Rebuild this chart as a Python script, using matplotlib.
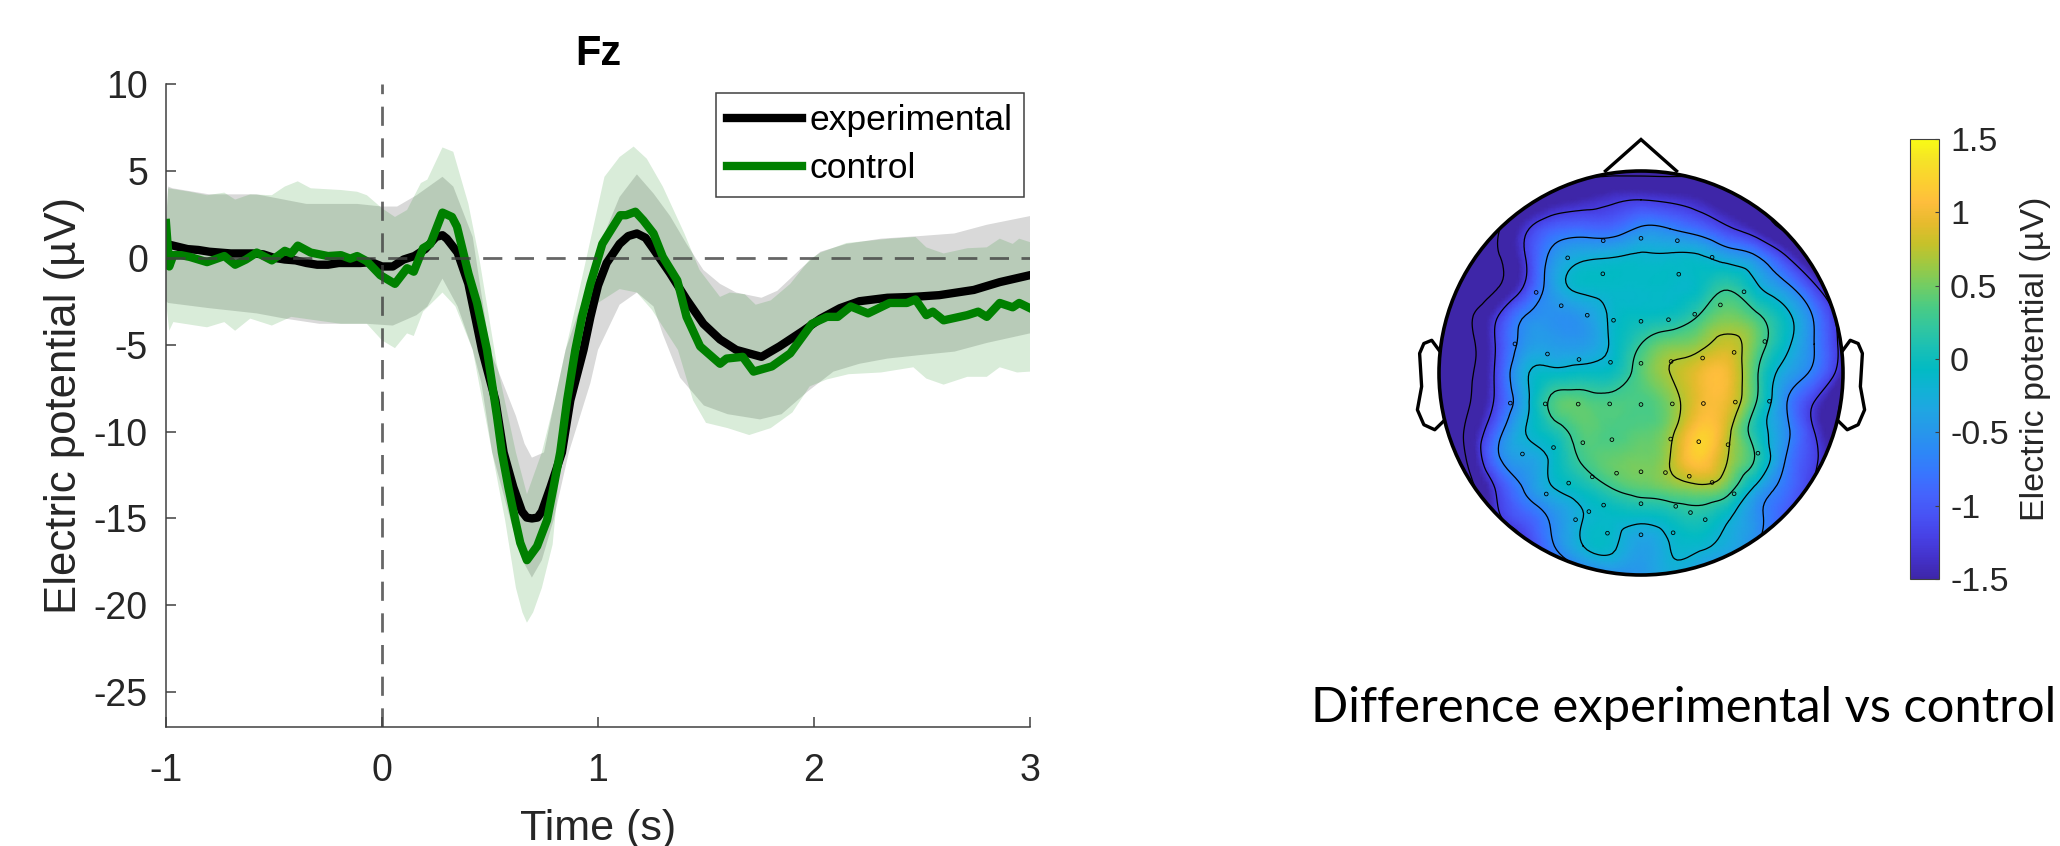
import numpy as np
import matplotlib
matplotlib.use('Agg')
import matplotlib.pyplot as plt
import matplotlib.tri as mtri
from matplotlib.colors import LinearSegmentedColormap
from matplotlib.patches import Circle

plt.rcParams['font.family'] = ['Liberation Sans', 'DejaVu Sans']

# mean curves
exp_t = [-1, -0.95, -0.9, -0.85, -0.8, -0.7, -0.6, -0.55, -0.5, -0.45, -0.4, -0.35, -0.3, -0.25, -0.2, -0.1, -0.05,
         0, 0.05, 0.1, 0.15, 0.2, 0.25, 0.28, 0.3, 0.35, 0.4, 0.463, 0.525, 0.563, 0.608, 0.648, 0.67, 0.694, 0.72, 0.74, 0.78,
         0.833, 0.872, 0.933, 0.965, 1.0, 1.04, 1.1, 1.14, 1.18, 1.22, 1.257, 1.334, 1.41, 1.488, 1.565, 1.64, 1.757, 1.84, 1.95,
         2.03, 2.12, 2.21, 2.34, 2.46, 2.58, 2.74, 2.86, 3]
exp_v = [0.8, 0.65, 0.5, 0.45, 0.35, 0.25, 0.25, 0.2, 0.0, -0.1, -0.15, -0.3, -0.4, -0.4, -0.3, -0.3, -0.25,
         -0.5, -0.5, -0.1, 0.1, 0.5, 1.2, 1.3, 1.1, 0.3, -1.5, -5.3, -8.2, -11.2, -13.2, -14.6, -14.95, -15, -14.95, -14.6, -13.2,
         -11.2, -8.2, -5.3, -3.4, -1.6, -0.3, 0.8, 1.25, 1.4, 1.15, 0.5, -0.9, -2.4, -3.8, -4.7, -5.3, -5.7, -5.1, -4.2,
         -3.5, -2.9, -2.5, -2.3, -2.25, -2.15, -1.85, -1.4, -1.0]
ctl_t = [-1, -0.985, -0.966, -0.93, -0.89, -0.81, -0.73, -0.68, -0.63, -0.58, -0.51, -0.45, -0.42, -0.39, -0.33, -0.25,
         -0.19, -0.147, -0.115, -0.07, -0.008, 0.06, 0.116, 0.147, 0.19, 0.224, 0.28, 0.324, 0.347, 0.40, 0.44, 0.486,
         0.532, 0.555, 0.585, 0.617, 0.64, 0.671, 0.718, 0.764, 0.794, 0.825, 0.857, 0.895, 0.926, 0.965, 1.02, 1.05,
         1.103, 1.13, 1.173, 1.21, 1.257, 1.30, 1.367, 1.41, 1.473, 1.565, 1.595, 1.67, 1.72, 1.805, 1.89, 1.99,
         2.06, 2.11, 2.17, 2.25, 2.35, 2.43, 2.47, 2.52, 2.55, 2.6, 2.71, 2.76, 2.8, 2.86, 2.92, 2.95, 3]
ctl_v = [2, -0.5, 0.15, 0.15, 0.05, -0.25, 0.1, -0.4, -0.1, 0.3, -0.15, 0.4, 0.25, 0.7, 0.3, 0.1,
         0.15, -0.05, 0.1, -0.2, -1, -1.5, -0.6, -0.8, 0.55, 0.8, 2.6, 2.35, 1.8, -0.9, -2.6, -5.3,
         -9.1, -11.2, -13.2, -15.1, -16.4, -17.4, -16.6, -15.1, -13.2, -11.2, -8.2, -5.3, -3.4, -1.5, 0.8, 1.4,
         2.45, 2.45, 2.65, 2.15, 1.4, 0.05, -1.3, -3.4, -5.1, -6.1, -5.8, -5.7, -6.55, -6.25, -5.5, -3.8,
         -3.4, -3.4, -2.8, -3.2, -2.6, -2.6, -2.4, -3.3, -3.1, -3.6, -3.3, -3.1, -3.4, -2.6, -2.85, -2.6, -2.9]

# spread around the means
exp_up_t = [-1, -0.99, -0.97, -0.8, -0.58, -0.35, -0.115, 0, 0.07, 0.16, 0.28, 0.33, 0.42, 0.5, 0.62, 0.66, 0.694,
            0.75, 0.80, 0.85, 0.965, 1.03, 1.10, 1.18, 1.257, 1.334, 1.41, 1.488, 1.565, 1.64, 1.757, 1.83, 1.95,
            2.03, 2.15, 2.31, 2.49, 2.65, 2.80, 3]
exp_up_v = [2, 4.1, 4.0, 3.65, 3.65, 3.1, 3.1, 2.95, 2.95, 3.6, 4.66, 4.1, 1.2, -5.3, -9.1, -10.7, -11.5,
            -11.2, -8.2, -5.3, -1.1, 1.4, 3.5, 4.8, 3.7, 2.4, 0.8, -0.7, -1.5, -2, -2.3, -1.9, -0.5,
            0.35, 0.8, 1.1, 1.25, 1.4, 1.9, 2.4]
exp_lo_t = [-1, -0.99, -0.8, -0.58, -0.45, -0.29, -0.07, 0.05, 0.16, 0.21, 0.28, 0.35, 0.42, 0.46, 0.51, 0.595, 0.65,
            0.694, 0.74, 0.794, 0.865, 0.965, 1.0, 1.10, 1.18, 1.257, 1.3, 1.38, 1.49, 1.6, 1.75, 1.85, 1.97,
            2.09, 2.21, 2.34, 2.49, 2.65, 2.80, 3]
exp_lo_v = [-2.5, -2.6, -2.9, -3.2, -3.5, -3.8, -3.8, -3.9, -3.3, -2.8, -1.2, -2.8, -5.3, -7.2, -11.2, -15.1, -17.4,
            -18.4, -17.4, -15.1, -11.2, -7.2, -5.3, -2.7, -2, -2.8, -4.4, -6.9, -8.5, -9, -9.3, -9, -7.7,
            -6.55, -6.1, -5.8, -5.6, -5.4, -4.9, -4.35]
ctl_up_t = [-1, -0.99, -0.89, -0.81, -0.73, -0.68, -0.61, -0.51, -0.45, -0.39, -0.33, -0.19, -0.115, -0.07, 0, 0.06,
            0.116, 0.18, 0.21, 0.28, 0.33, 0.40, 0.45, 0.53, 0.62, 0.671, 0.74, 0.80, 0.85, 0.92, 1.03, 1.10, 1.165,
            1.226, 1.30, 1.40, 1.47, 1.565, 1.61, 1.68, 1.73, 1.80, 1.89, 1.98, 2.03, 2.15, 2.27, 2.35, 2.47,
            2.52, 2.6, 2.71, 2.8, 2.86, 2.92, 2.95, 3]
ctl_up_v = [2, 4.0, 3.8, 3.6, 3.75, 3.35, 3.65, 3.6, 4.1, 4.4, 4, 3.9, 3.8, 3.6, 2.85, 2.35,
            2.75, 4.3, 4.5, 6.35, 6.1, 3.1, 0, -6, -11.2, -13.6, -11.2, -8.2, -5.3, -1.5, 4.66, 5.8, 6.4,
            5.7, 4.1, 1.4, -0.7, -2.25, -2, -2.1, -2.7, -2.45, -1.5, -0.1, 0.3, 0.85, 1.0, 1.1, 1.2,
            0.6, 0.25, 0.55, 0.6, 1.1, 0.8, 1.1, 0.9]
ctl_lo_t = [-1, -0.985, -0.966, -0.81, -0.73, -0.68, -0.61, -0.51, -0.42, -0.19, -0.07, 0, 0.06, 0.116, 0.147, 0.19,
            0.28, 0.34, 0.42, 0.51, 0.57, 0.62, 0.65, 0.671, 0.70, 0.74, 0.79, 0.83, 0.91, 1.0, 1.10, 1.18, 1.25,
            1.37, 1.44, 1.5, 1.6, 1.7, 1.8, 1.9, 1.98, 2.06, 2.16, 2.31, 2.46, 2.52, 2.6, 2.71, 2.8, 2.86, 2.94, 3]
ctl_lo_v = [-2.5, -4.2, -3.7, -4, -3.7, -4.2, -3.5, -3.9, -3.4, -3.8, -3.8, -4.75, -5.2, -4.35, -4.5, -3.1,
            -2, -2.8, -5.3, -11.2, -15.1, -19, -20.4, -21, -20.4, -19, -16.5, -11.2, -5.3, -2.6, -1.8, -2, -3,
            -5.3, -8.2, -9.5, -9.8, -10.2, -9.8, -8.9, -7.4, -7, -6.7, -6.6, -6.3, -6.95, -7.3, -6.85, -6.85, -6.3, -6.6, -6.55]

xticks = [-1, 0, 1, 2, 3]
xticklabels = ['-1', '0', '1', '2', '3']
yticks = [10, 5, 0, -5, -10, -15, -20, -25]
yticklabels = ['10', '5', '0', '-5', '-10', '-15', '-20', '-25']

# scalp map, rows run from nose to back, columns left to right
scalp_x = [-1, -6/7, -5/7, -4/7, -3/7, -2/7, -1/7, 0, 1/7, 2/7, 3/7, 4/7, 5/7, 6/7, 1]
scalp_y = [1, 6/7, 5/7, 4/7, 3/7, 2/7, 1/7, 0, -1/7, -2/7, -3/7, -4/7, -5/7, -6/7, -1]
scalp_v = [
    [-2.05, -2.05, -2.05, -2.05, -2.05, -1.98, -1.98, -1.98, -1.98, -1.98, -2.05, -2.05, -2.05, -2.05, -2.05],
    [-2.18, -2.18, -2.05, -1.85, -1.58, -1.45, -1.32, -1.25, -1.32, -1.45, -1.65, -1.78, -2.05, -2.18, -2.18],
    [-2.18, -2.18, -1.91, -1.32, -0.92, -0.85, -0.85, -0.6, -0.65, -0.85, -1.18, -1.51, -1.91, -2.18, -2.18],
    [-2.31, -2.18, -1.91, -1.25, -0.5, -0.25, -0.2, -0.15, -0.15, -0.15, -0.35, -0.6, -1.18, -1.78, -2.18],
    [-2.31, -2.3, -1.9, -1.18, -0.4, -0.12, -0.1, -0.1, -0.1, -0.05, 0.2, -0.15, -0.55, -1.18, -1.91],
    [-2.18, -1.95, -1.3, -0.65, -0.55, -0.45, -0.15, -0.05, 0.0, 0.25, 0.5, 0.3, -0.1, -0.7, -1.5],
    [-2.05, -2.0, -1.2, -0.5, -0.45, -0.45, -0.15, 0.25, 0.5, 0.6, 0.8, 0.45, -0.1, -0.65, -1.4],
    [-2.05, -1.95, -1.15, -0.25, -0.1, -0.05, 0.0, 0.4, 0.7, 0.95, 1.0, 0.3, -0.35, -0.75, -1.5],
    [-2.05, -1.9, -1.15, -0.3, 0.35, 0.4, 0.35, 0.35, 0.55, 0.95, 0.95, 0.25, -0.6, -1.25, -1.91],
    [-2.18, -1.75, -0.85, -0.2, 0.1, 0.4, 0.35, 0.4, 0.6, 1.15, 0.8, 0.05, -0.55, -1.25, -1.91],
    [-2.31, -1.8, -0.75, -0.4, -0.1, 0.3, 0.45, 0.5, 0.7, 1.15, 0.7, 0.2, -0.65, -1.18, -1.91],
    [-2.45, -2.05, -1.2, -0.6, -0.2, 0.0, 0.25, 0.4, 0.5, 0.6, 0.4, -0.3, -0.8, -1.32, -2.05],
    [-2.45, -2.15, -1.35, -0.95, -0.55, -0.2, -0.1, -0.1, 0.0, 0.1, -0.15, -0.55, -0.98, -1.51, -2.05],
    [-2.45, -2.18, -1.85, -1.3, -0.65, -0.2, -0.15, -0.4, -0.2, -0.15, -0.3, -0.65, -1.25, -1.78, -2.18],
    [-2.31, -2.31, -2.18, -1.78, -1.25, -0.85, -0.6, -0.5, -0.3, -0.5, -0.85, -1.38, -1.91, -2.31, -2.31],
]
elec_x = [-.187, 0, .18, -.363, .352, -.189, .187, -.519, .51, -.395, .393, -.266, -.136, 0, .136, .266, -.624, .613,
          -.463, .461, -.307, -.151, 0, .149, .305, -.647, -.474, -.311, -.155, 0, .155, .309, .467, .636, -.433,
          -.587, -.288, -.144, .147, .286, .431, .579, -.121, 0, .121, .239, .352, -.241, -.358, -.469, .461, -.185,
          0, .172, .245, -.258, -.324, .318, -.166, 0, .159]
elec_y = [.655, .667, .655, .57, .573, .491, .489, .399, .402, .333, .337, .286, .261, .256, .264, .291, .144, .156,
          .094, .102, .067, .053, .048, .057, .074, -.149, -.153, -.154, -.153, -.156, -.153, -.151, -.144, -.14, -.369,
          -.401, -.345, -.33, -.327, -.34, -.355, -.397, -.496, -.489, -.493, -.511, -.542, -.514, -.545, -.599, -.598,
          -.654, -.647, -.66, -.691, -.686, -.726, -.726, -.793, -.801, -.791]
levels = [-1.85, -1.25, -0.65, -0.2, 0.25, 0.7]
cbar_ticks = [-1.5, -1, -0.5, 0, 0.5, 1, 1.5]
cbar_labels = ['-1.5', '-1', '-0.5', '0', '0.5', '1', '1.5']

# parula style colormap
parula = LinearSegmentedColormap.from_list('parula', [
    (.2422, .1504, .6603), (.2647, .1978, .7952), (.2783, .2559, .8991), (.2810, .3228, .9579),
    (.2699, .3892, .9906), (.2206, .4603, .9973), (.1786, .5289, .9682), (.1540, .5902, .9218),
    (.1248, .6459, .8883), (.0689, .6948, .8394), (.0067, .7312, .7660), (.0964, .7500, .7120),
    (.1938, .7758, .6251), (.2906, .7973, .5188), (.4456, .8024, .3909), (.6174, .7876, .2612),
    (.7738, .7598, .1646), (.9035, .7330, .1774), (.9956, .7434, .2371), (.9892, .8136, .1885),
    (.9610, .8890, .1537), (.9769, .9839, .0805)])

W, H = 2060, 846
def px_axes(x0, y0, x1, y1):
    return fig.add_axes([x0 / W, 1 - y1 / H, (x1 - x0) / W, (y1 - y0) / H])

fig = plt.figure(figsize=(20.6, 8.46), dpi=100)

# left panel
ax = px_axes(166, 84, 1030, 727)
ax.fill(exp_up_t + exp_lo_t[::-1], exp_up_v + exp_lo_v[::-1], color='k', alpha=0.15, lw=0)
ax.plot(exp_t, exp_v, color='k', lw=6, label='experimental', solid_joinstyle='round')
ax.fill(ctl_up_t + ctl_lo_t[::-1], ctl_up_v + ctl_lo_v[::-1], color='g', alpha=0.15, lw=0)
ax.plot(ctl_t, ctl_v, color='#008000', lw=6, label='control', solid_joinstyle='round')
ax.axvline(0, color='#404040', alpha=0.8, lw=2, dashes=(6.9, 4.5))
ax.axhline(0, color='#404040', alpha=0.8, lw=2, dashes=(6.9, 4.5))
ax.set_xlim(-1, 3)
ax.set_ylim(-27, 10)
ax.spines['top'].set_visible(False)
ax.spines['right'].set_visible(False)
for s in ['left', 'bottom']:
    ax.spines[s].set_linewidth(1.1)
    ax.spines[s].set_color('#404040')
ax.set_xticks(xticks)
ax.set_xticklabels(xticklabels)
ax.set_yticks(yticks)
ax.set_yticklabels(yticklabels)
ax.tick_params(direction='in', length=7, width=1.1, color='#404040', labelsize=27, labelcolor='#262626')
ax.tick_params(axis='x', pad=19)
ax.tick_params(axis='y', pad=13)
ax.set_xlabel('Time (s)', fontsize=31, color='#262626', labelpad=14)
ax.set_ylabel('Electric potential (µV)', fontsize=31.5, color='#262626', labelpad=6)
ax.set_title('Fz', fontsize=30, fontweight='bold', pad=14)
leg = ax.legend(loc='upper left', bbox_to_anchor=((716 - 166) / 864, (727 - 93) / 643), fontsize=25.5,
                frameon=True, fancybox=False, framealpha=1, edgecolor='#404040', borderaxespad=0,
                handlelength=2.1, handletextpad=0.22, labelspacing=0.42, borderpad=0.32)
leg.get_frame().set_linewidth(1.1)

# scalp map
topo = px_axes(1401, 130, 1881, 610)
topo.set_xlim(-240 / 202, 240 / 202)
topo.set_ylim(-237 / 202, 243 / 202)
topo.axis('off')
gx, gy = np.meshgrid(scalp_x, scalp_y)
tri = mtri.Triangulation(gx.ravel(), gy.ravel())
fine_tri, fine_v = mtri.UniformTriRefiner(tri).refine_field(np.array(scalp_v).ravel(), subdiv=3)
clip = Circle((0, 0), 1, transform=topo.transData)
im = topo.tripcolor(fine_tri, fine_v, shading='gouraud', cmap=parula, vmin=-1.5, vmax=1.5)
im.set_clip_path(clip)
cs = topo.tricontour(fine_tri, fine_v, levels=levels, colors='k', linewidths=0.9, linestyles='solid')
cs.set_clip_path(clip)
topo.scatter(elec_x, elec_y, s=7, facecolors='none', edgecolors='k', linewidths=0.6, zorder=3)
topo.add_patch(Circle((0, 0), 1, fill=False, edgecolor='k', lw=2.6, zorder=4))
topo.plot([-0.176, 0, 0.176], [1.0, 1.156, 1.0], color='k', lw=2.4, solid_joinstyle='miter')
ear_x = [-1, -1.036, -1.075, -1.096, -1.086, -1.107, -1.075, -1.021, -0.979]
ear_y = [.113, .162, .146, .097, -.067, -.182, -.256, -.281, -.24]
topo.plot(ear_x, ear_y, color='k', lw=2.4)
topo.plot(np.negative(ear_x), ear_y, color='k', lw=2.4)

# colorbar
cax = px_axes(1910, 139, 1939, 579)
cbar = fig.colorbar(im, cax=cax)
cbar.set_ticks(cbar_ticks)
cbar.set_ticklabels(cbar_labels)
cbar.ax.tick_params(direction='in', length=3, width=0.8, color='#404040', labelsize=24.5, labelcolor='#262626', pad=8)
cbar.outline.set_linewidth(0.8)
cbar.outline.set_edgecolor('#404040')
cbar.set_label('Electric potential (µV)', fontsize=24.5, color='#262626', labelpad=8)

fig.text(1311 / W, 1 - 708 / H, 'Difference experimental vs control', fontsize=35.2, family='Lato',
         ha='left', va='center', color='k')

fig.savefig('out.png', dpi=100)
